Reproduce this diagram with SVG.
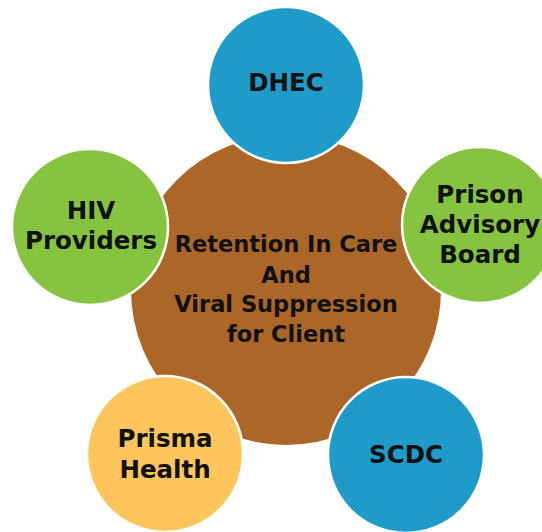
<svg xmlns="http://www.w3.org/2000/svg" width="542" height="532" viewBox="0 0 542 532">
<style>
.sat{stroke:#fff;stroke-width:2.5}
.blue{fill:#1E9BC9}.green{fill:#86C440}.yellow{fill:#FDC55C}.brown{fill:#AB6628}
text{font-family:"DejaVu Sans","Liberation Sans",sans-serif;font-weight:700;fill:#111;text-anchor:middle}
.s{font-size:24.5px}.c{font-size:22.5px}
</style>
<rect width="542" height="532" fill="#fff"/>
<g id="center">
<circle class="brown" cx="286" cy="290" r="155"/>
<text class="c" x="286" y="252">Retention In Care</text>
<text class="c" x="286" y="283">And</text>
<text class="c" x="286" y="312">Viral Suppression</text>
<text class="c" x="286" y="342">for Client</text>
</g>
<g id="connectors"></g>
<g id="dhec">
<circle class="sat blue" cx="286" cy="85" r="78"/>
<text class="s" x="286" y="91">DHEC</text>
</g>
<g id="hiv">
<circle class="sat green" cx="90" cy="227" r="78"/>
<text class="s" x="91" y="219">HIV</text>
<text class="s" x="91" y="249">Providers</text>
</g>
<g id="prison">
<circle class="sat green" cx="480" cy="225" r="78"/>
<text class="s" x="480" y="203">Prison</text>
<text class="s" x="480" y="233">Advisory</text>
<text class="s" x="480" y="263">Board</text>
</g>
<g id="prisma">
<circle class="sat yellow" cx="165" cy="454" r="78"/>
<text class="s" x="165" y="447">Prisma</text>
<text class="s" x="165" y="478">Health</text>
</g>
<g id="scdc">
<circle class="sat blue" cx="406" cy="455" r="78"/>
<text class="s" x="406" y="463">SCDC</text>
</g>
</svg>
